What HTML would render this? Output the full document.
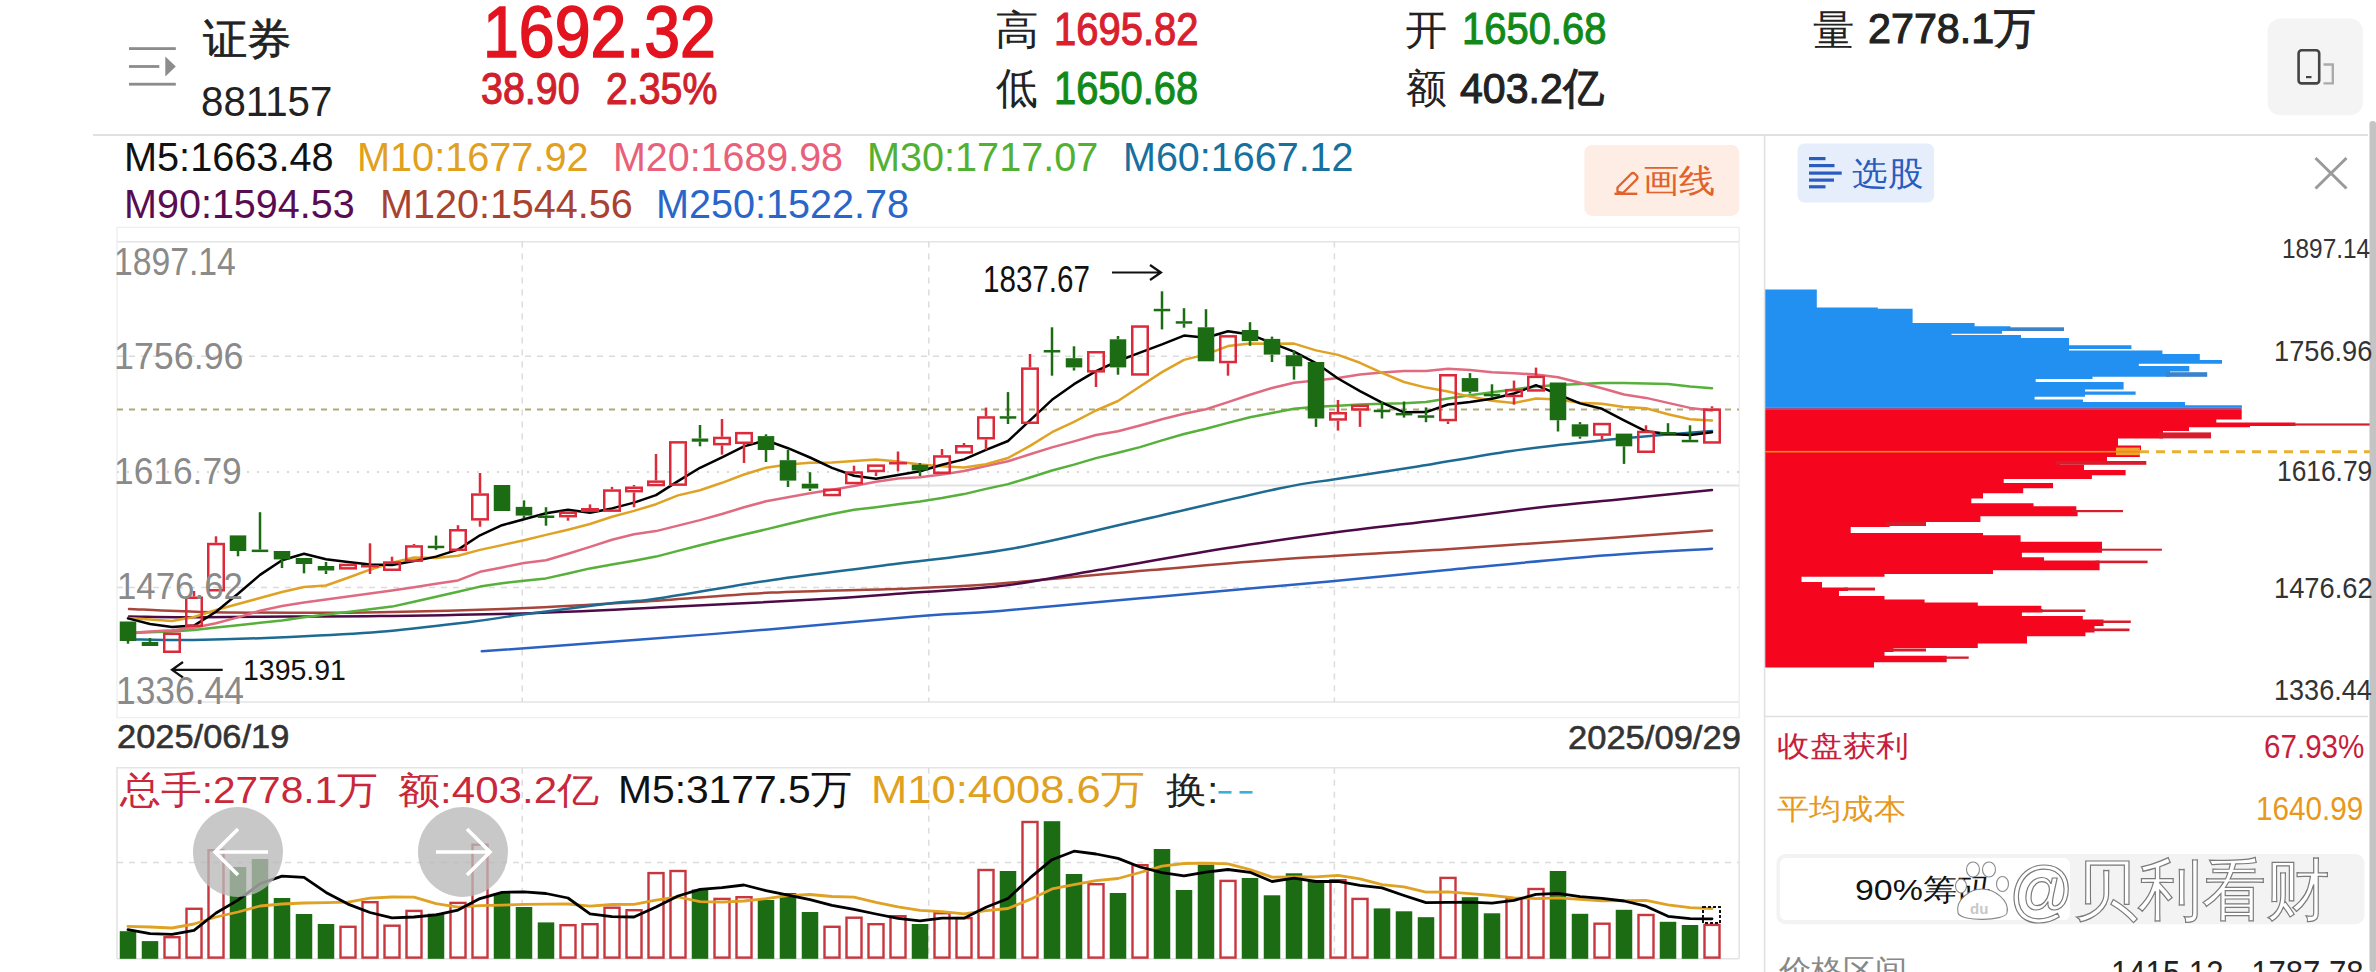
<!DOCTYPE html>
<html><head><meta charset="utf-8"><style>
html,body{margin:0;padding:0;background:#fff;width:2376px;height:972px;overflow:hidden;position:relative}
.t{position:absolute;white-space:nowrap;font-family:'Liberation Sans', sans-serif;transform-origin:0 0}
svg{position:absolute;left:0;top:0}
</style></head><body>
<svg width="2376" height="972" viewBox="0 0 2376 972">
<rect x="117" y="227.4" width="1622.2" height="490.2" fill="none" stroke="#efefef" stroke-width="1.4"/>
<line x1="117" y1="241.7" x2="1739" y2="241.7" stroke="#e4e4e4" stroke-width="1.6"/>
<line x1="117" y1="702" x2="1739" y2="702" stroke="#e4e4e4" stroke-width="1.6"/>
<line x1="117" y1="356.3" x2="1739" y2="356.3" stroke="#dcdcdc" stroke-width="1.5" stroke-dasharray="6 6"/>
<line x1="117" y1="587.5" x2="1739" y2="587.5" stroke="#dcdcdc" stroke-width="1.5" stroke-dasharray="6 6"/>
<line x1="117" y1="472" x2="1739" y2="472" stroke="#d8d8d8" stroke-width="1.8" stroke-dasharray="2 8"/>
<line x1="875" y1="485.4" x2="1739" y2="485.4" stroke="#e2e2e2" stroke-width="2"/>
<line x1="522.2" y1="241.6" x2="522.2" y2="702" stroke="#dcdcdc" stroke-width="1.5" stroke-dasharray="6 6"/>
<line x1="522.2" y1="767.7" x2="522.2" y2="958.8" stroke="#dcdcdc" stroke-width="1.5" stroke-dasharray="6 6"/>
<line x1="928.8" y1="241.6" x2="928.8" y2="702" stroke="#dcdcdc" stroke-width="1.5" stroke-dasharray="6 6"/>
<line x1="928.8" y1="767.7" x2="928.8" y2="958.8" stroke="#dcdcdc" stroke-width="1.5" stroke-dasharray="6 6"/>
<line x1="1334.4" y1="241.6" x2="1334.4" y2="702" stroke="#dcdcdc" stroke-width="1.5" stroke-dasharray="6 6"/>
<line x1="1334.4" y1="767.7" x2="1334.4" y2="958.8" stroke="#dcdcdc" stroke-width="1.5" stroke-dasharray="6 6"/>
<line x1="117" y1="409.5" x2="1739" y2="409.5" stroke="#b2a878" stroke-width="1.8" stroke-dasharray="6 6"/>
<path d="M117,958.8 V767.7 H1739.2 V958.8" fill="none" stroke="#e4e4e4" stroke-width="1.6"/>
<line x1="117" y1="958.8" x2="1739" y2="958.8" stroke="#e4e4e4" stroke-width="1.6"/>
<line x1="117" y1="862.6" x2="1739" y2="862.6" stroke="#dcdcdc" stroke-width="1.5" stroke-dasharray="6 6"/>
<line x1="93" y1="135" x2="2368" y2="135" stroke="#e0e0e0" stroke-width="1.8"/>
<line x1="1764.6" y1="135" x2="1764.6" y2="972" stroke="#e0e0e0" stroke-width="1.6"/>
<line x1="1764.6" y1="716.5" x2="2368" y2="716.5" stroke="#e0e0e0" stroke-width="1.6"/>
<path d="M1765.3,289.5 L1816.8,289.5 L1816.8,307.4 L1877.8,307.4 L1877.8,308.8 L1912.6,308.8 L1912.6,323.1 L1974.6,323.1 L1974.6,326.3 L2010.4,326.3 L2010.4,331.0 L2002.0,331.0 L2002.0,333.7 L1951.5,333.7 L1951.5,335.0 L2021.0,335.0 L2021.0,337.9 L2069.0,337.9 L2069.0,345.2 L2131.4,345.2 L2131.4,349.0 L2069.0,349.0 L2069.0,350.5 L2162.4,350.5 L2162.4,354.0 L2199.8,354.0 L2199.8,360.0 L2222.0,360.0 L2222.0,363.8 L2138.8,363.8 L2138.8,365.9 L2189.3,365.9 L2189.3,371.5 L2170.0,371.5 L2170.0,376.8 L2092.5,376.8 L2092.5,379.0 L2035.7,379.0 L2035.7,382.0 L2123.6,382.0 L2123.6,389.4 L2085.0,389.4 L2085.0,391.5 L2135.6,391.5 L2135.6,394.7 L2085.0,394.7 L2085.0,396.8 L2034.6,396.8 L2034.6,399.5 L2083.0,399.5 L2083.0,402.0 L2185.0,402.0 L2185.0,405.2 L2241.9,405.2 L2241.9,407.8 L1765.3,407.8 Z" fill="#2190f0"/>
<rect x="2006.4" y="327.3" width="57.6" height="3.7" fill="#3a82cc"/>
<rect x="2166.0" y="372.2" width="41.2" height="4.6" fill="#3a82cc"/>
<path d="M1765.3,409.9 L2241.7,409.9 L2241.7,419.4 L2216.3,419.4 L2216.3,422.5 L2295.4,422.5 L2295.4,426.0 L2250.0,426.0 L2250.0,427.2 L2189.0,427.2 L2189.0,431.0 L2163.0,431.0 L2163.0,438.4 L2118.0,438.4 L2118.0,445.4 L2141.0,445.4 L2141.0,450.6 L2139.8,450.6 L2139.8,457.0 L2107.0,457.0 L2107.0,461.0 L2060.0,461.0 L2060.0,464.8 L2084.0,464.8 L2084.0,470.0 L2125.6,470.0 L2125.6,475.2 L2091.9,475.2 L2091.9,479.0 L2003.7,479.0 L2003.7,483.0 L2053.0,483.0 L2053.0,488.2 L2023.2,488.2 L2023.2,493.3 L1983.0,493.3 L1983.0,498.5 L1971.3,498.5 L1971.3,503.2 L2033.5,503.2 L2033.5,506.3 L2076.3,506.3 L2076.3,511.5 L2077.6,511.5 L2077.6,516.2 L1980.4,516.2 L1980.4,521.9 L1889.6,521.9 L1889.6,527.0 L1850.7,527.0 L1850.7,533.1 L1983.0,533.1 L1983.0,535.2 L2020.6,535.2 L2020.6,541.7 L2102.0,541.7 L2102.0,552.8 L2021.9,552.8 L2021.9,557.2 L2044.0,557.2 L2044.0,560.6 L2099.6,560.6 L2099.6,570.2 L1993.0,570.2 L1993.0,574.0 L1884.5,574.0 L1884.5,576.7 L1801.5,576.7 L1801.5,581.9 L1822.0,581.9 L1822.0,587.6 L1848.0,587.6 L1848.0,591.0 L1839.0,591.0 L1839.0,596.0 L1884.5,596.0 L1884.5,599.5 L1924.6,599.5 L1924.6,602.6 L1977.8,602.6 L1977.8,605.7 L2041.3,605.7 L2041.3,609.0 L2042.6,609.0 L2042.6,612.4 L2021.9,612.4 L2021.9,616.0 L2082.8,616.0 L2082.8,619.4 L2103.5,619.4 L2103.5,626.0 L2094.5,626.0 L2094.5,632.4 L2085.4,632.4 L2085.4,636.3 L2027.0,636.3 L2027.0,643.6 L1977.8,643.6 L1977.8,648.0 L1893.5,648.0 L1893.5,651.9 L1884.5,651.9 L1884.5,655.7 L1946.7,655.7 L1946.7,662.2 L1874.0,662.2 L1874.0,667.4 L1765.3,667.4 Z" fill="#f5061e"/>
<rect x="2159.0" y="432.4" width="52.0" height="6.0" fill="#d81c2c"/>
<rect x="2056.0" y="461" width="90.3" height="3.8" fill="#d81c2c"/>
<rect x="2072.3" y="510" width="50.7" height="2.2" fill="#d81c2c"/>
<rect x="1885.6" y="522" width="40.4" height="4.0" fill="#d81c2c"/>
<rect x="2098.0" y="548.7" width="63.9" height="2.0" fill="#d81c2c"/>
<rect x="2095.6" y="560.6" width="52.0" height="2.6" fill="#d81c2c"/>
<rect x="1844.0" y="587.6" width="31.0" height="2.9" fill="#d81c2c"/>
<rect x="2038.6" y="609.5" width="46.8" height="2.5" fill="#d81c2c"/>
<rect x="2099.5" y="620.5" width="31.3" height="2.5" fill="#d81c2c"/>
<rect x="2090.5" y="628.5" width="39.0" height="2.7" fill="#d81c2c"/>
<rect x="1889.5" y="648.5" width="36.5" height="3.0" fill="#d81c2c"/>
<rect x="1942.7" y="656.5" width="26.0" height="2.3" fill="#d81c2c"/>
<rect x="1765.3" y="407.6" width="476.4" height="2.4" fill="#a05088"/>
<rect x="2290" y="423.4" width="80" height="2.2" fill="#d02030"/>
<rect x="2116" y="447.6" width="24" height="7.6" fill="#f2a232"/>
<rect x="1765.3" y="450.9" width="374.7" height="1.6" fill="#f08a10"/>
<line x1="2140" y1="451.7" x2="2370" y2="451.7" stroke="#e8b030" stroke-width="3" stroke-dasharray="9 7"/>
<rect x="129" y="47.2" width="46.8" height="2.8" fill="#8c8c8c"/>
<rect x="129" y="65.1" width="30.3" height="2.8" fill="#8c8c8c"/>
<rect x="129" y="82.8" width="46.8" height="2.8" fill="#8c8c8c"/>
<polygon points="165.3,56.4 175.8,66.5 165.3,76.6" fill="#8c8c8c"/>
<rect x="2267.6" y="18.5" width="95.4" height="96.7" rx="13" fill="#f4f4f4"/>
<rect x="2298.6" y="50.2" width="20.6" height="33.2" rx="3" fill="none" stroke="#444" stroke-width="2.6"/>
<rect x="2306" y="76" width="5.5" height="2.2" fill="#444"/>
<path d="M2323.5,64.5 H2332.8 V83.4 H2323.5" fill="none" stroke="#aaa" stroke-width="2.4"/>
<rect x="1584.4" y="145" width="154.9" height="70.9" rx="8" fill="#fdede4"/>
<path d="M1617.5,192 L1617.5,187.5 L1631,174 Q1633,172 1635,174 L1636.5,175.5 Q1638.5,177.5 1636.5,179.5 L1623,193 Z" fill="none" stroke="#e2622e" stroke-width="2.3" stroke-linejoin="round"/>
<rect x="1614.5" y="192.6" width="22.8" height="2.4" fill="#e2622e"/>
<rect x="1797.6" y="143.5" width="136.6" height="59.1" rx="7" fill="#e6eefb"/>
<rect x="1809" y="157" width="16.5" height="3.2" fill="#2a5cc0"/>
<rect x="1809" y="164" width="25.5" height="3.2" fill="#2a5cc0"/>
<rect x="1809" y="171.5" width="32.7" height="3.2" fill="#2a5cc0"/>
<rect x="1809" y="178.5" width="25" height="3.2" fill="#2a5cc0"/>
<rect x="1809" y="185.2" width="16.5" height="3.2" fill="#2a5cc0"/>
<path d="M2315.5,158 L2346.5,188.5 M2346.5,158 L2315.5,188.5" stroke="#9a9a9a" stroke-width="3" fill="none"/>
<path d="M1112,272.5 H1161 M1150,265 L1161,272.5 L1150,280" stroke="#111" stroke-width="2.2" fill="none"/>
<path d="M222.7,669.8 H172 M183,662 L172,669.8 L183,677.5" stroke="#111" stroke-width="2.2" fill="none"/>
<rect x="1218.5" y="791" width="13" height="2.6" fill="#3ab0d8"/>
<rect x="1239.5" y="791" width="13" height="2.6" fill="#3ab0d8"/>
<rect x="2369.5" y="121" width="6.5" height="851" rx="3" fill="#c4c4c4"/>
<rect x="1776.4" y="854" width="588" height="70.2" rx="9" fill="#f3f3f3"/>
<rect x="1780" y="858" width="290" height="62" rx="6" fill="#ffffff"/>
<path d="M481.8,651.3 C508.3,649.3 592.7,643.3 641.0,639.6 C689.3,635.9 725.7,633.1 771.4,629.2 C817.1,625.4 876.9,619.5 915.0,616.5 C953.1,613.5 960.8,614.1 1000.0,610.9 C1039.2,607.7 1095.1,602.4 1150.0,597.5 C1204.9,592.6 1279.9,586.0 1329.4,581.4 C1378.9,576.8 1401.4,574.3 1447.0,570.0 C1492.6,565.7 1558.8,559.0 1603.0,555.5 C1647.2,552.0 1693.8,549.8 1712.0,548.7" fill="none" stroke="#2a62c4" stroke-width="2.5" stroke-linecap="round"/>
<path d="M129.0,608.9 C141.0,609.4 174.1,611.4 200.9,612.0 C227.7,612.6 260.1,612.7 290.0,612.7 C319.9,612.7 341.5,612.9 380.0,612.2 C418.5,611.5 477.4,610.0 520.9,608.3 C564.4,606.6 599.2,604.4 641.0,601.8 C682.8,599.2 727.9,594.8 771.4,592.6 C814.9,590.4 863.9,590.2 902.0,588.7 C940.1,587.2 958.5,586.6 1000.0,583.5 C1041.5,580.4 1102.4,574.1 1151.0,570.0 C1199.6,565.9 1242.2,562.1 1291.5,558.6 C1340.8,555.1 1395.1,552.7 1447.0,549.3 C1498.9,545.9 1558.8,541.5 1603.0,538.4 C1647.2,535.3 1693.8,531.9 1712.0,530.6" fill="none" stroke="#a8453a" stroke-width="2.5" stroke-linecap="round"/>
<path d="M129.0,616.5 C141.0,616.6 174.1,617.3 200.9,617.3 C227.7,617.3 260.1,616.7 290.0,616.5 C319.9,616.3 341.5,616.6 380.0,616.1 C418.5,615.6 473.1,615.0 520.9,613.5 C568.7,612.0 616.5,609.4 667.0,607.0 C717.5,604.6 784.4,601.4 823.6,599.1 C862.8,596.8 872.6,595.6 902.0,593.4 C931.4,591.2 967.3,590.0 1000.0,586.1 C1032.7,582.2 1059.8,576.4 1098.0,570.0 C1136.2,563.6 1189.0,554.0 1229.0,547.7 C1269.0,541.4 1302.7,536.8 1338.0,532.1 C1373.3,527.4 1407.2,523.9 1441.0,519.7 C1474.8,515.6 1511.1,510.6 1540.7,507.2 C1570.3,503.8 1590.0,502.2 1618.6,499.4 C1647.1,496.5 1696.4,491.7 1712.0,490.1" fill="none" stroke="#4e0a46" stroke-width="2.5" stroke-linecap="round"/>
<path d="M129.0,639.2 C139.7,639.3 166.2,640.4 193.0,640.0 C219.8,639.6 258.8,638.4 290.0,637.0 C321.2,635.6 350.0,634.3 380.0,631.8 C410.0,629.3 446.3,624.8 469.8,622.0 C493.3,619.2 497.0,618.0 520.9,614.8 C544.8,611.6 590.8,605.6 613.0,603.0 C635.2,600.4 628.5,602.8 654.0,599.1 C679.5,595.4 729.2,586.3 766.2,580.9 C803.2,575.5 835.5,571.8 875.8,566.5 C916.1,561.2 964.7,556.8 1008.0,549.3 C1051.3,541.8 1090.6,531.3 1135.8,521.2 C1181.0,511.1 1245.8,495.5 1279.0,488.5 C1312.2,481.5 1312.2,482.8 1335.0,479.2 C1357.8,475.6 1386.9,471.4 1416.0,466.7 C1445.1,462.0 1484.6,454.9 1509.6,451.2 C1534.5,447.5 1547.5,446.4 1565.7,444.3 C1583.9,442.2 1594.2,440.9 1618.6,438.7 C1643.0,436.5 1696.4,432.2 1712.0,430.9" fill="none" stroke="#1d6b92" stroke-width="2.5" stroke-linecap="round"/>
<polyline points="128.0,633.2 150.0,632.3 172.0,631.5 194.0,630.0 216.0,627.6 238.0,625.2 260.0,622.8 282.0,620.4 304.0,617.2 326.0,614.6 348.0,611.9 370.0,609.3 392.0,606.6 414.0,601.8 436.0,596.7 458.0,591.7 480.0,586.6 502.0,583.2 524.0,580.8 546.0,578.4 568.0,573.5 590.0,568.4 612.0,564.6 634.0,560.8 656.0,556.6 678.0,550.9 700.0,545.2 722.0,539.8 744.0,534.5 766.0,529.4 788.0,524.0 810.0,518.8 832.0,514.0 854.0,509.8 876.0,507.2 898.0,504.2 920.0,501.5 942.0,498.1 964.0,494.1 986.0,488.9 1008.0,484.1 1030.0,477.5 1052.0,470.5 1074.0,464.6 1096.0,458.1 1118.0,452.7 1140.0,447.1 1162.0,440.4 1184.0,434.0 1206.0,428.8 1228.0,422.9 1250.0,417.3 1272.0,412.9 1294.0,408.8 1316.0,406.8 1338.0,405.8 1360.0,404.6 1382.0,403.7 1404.0,403.2 1426.0,402.1 1448.0,398.5 1470.0,395.3 1492.0,392.2 1514.0,389.5 1536.0,386.5 1558.0,385.1 1580.0,384.0 1602.0,382.9 1624.0,382.9 1646.0,383.4 1668.0,384.0 1690.0,386.4 1712.0,388.3" fill="none" stroke="#56b03a" stroke-width="2.5" stroke-linejoin="round" stroke-linecap="round"/>
<polyline points="128.0,633.0 150.0,631.5 172.0,630.2 194.0,627.8 216.0,623.3 238.0,617.4 260.0,610.7 282.0,606.0 304.0,602.6 326.0,599.6 348.0,596.6 370.0,593.6 392.0,590.6 414.0,587.2 436.0,583.8 458.0,580.4 480.0,571.8 502.0,567.4 524.0,563.0 546.0,560.2 568.0,553.8 590.0,546.9 612.0,539.7 634.0,534.2 656.0,531.1 678.0,525.6 700.0,520.1 722.0,514.0 744.0,507.3 766.0,501.3 788.0,497.2 810.0,493.3 832.0,489.7 854.0,486.0 876.0,481.8 898.0,478.5 920.0,477.3 942.0,474.6 964.0,471.0 986.0,466.0 1008.0,461.3 1030.0,454.3 1052.0,447.4 1074.0,441.4 1096.0,435.0 1118.0,431.3 1140.0,425.5 1162.0,419.2 1184.0,413.8 1206.0,409.3 1228.0,402.1 1250.0,394.7 1272.0,388.0 1294.0,382.7 1316.0,380.4 1338.0,377.9 1360.0,374.6 1382.0,372.5 1404.0,371.0 1426.0,371.0 1448.0,368.8 1470.0,370.0 1492.0,372.2 1514.0,373.3 1536.0,374.5 1558.0,377.2 1580.0,382.7 1602.0,388.3 1624.0,394.5 1646.0,397.9 1668.0,402.9 1690.0,407.9 1712.0,410.6" fill="none" stroke="#e06a80" stroke-width="2.5" stroke-linejoin="round" stroke-linecap="round"/>
<polyline points="128.0,618.0 150.0,619.5 172.0,621.0 194.0,617.0 216.0,610.0 238.0,604.0 260.0,598.0 282.0,592.0 304.0,587.0 326.0,585.5 348.0,577.8 370.0,569.7 392.0,562.6 414.0,557.5 436.0,558.0 458.0,555.8 480.0,549.9 502.0,545.1 524.0,540.2 546.0,534.9 568.0,529.7 590.0,524.0 612.0,516.8 634.0,510.9 656.0,504.2 678.0,495.4 700.0,490.3 722.0,482.8 744.0,474.5 766.0,467.7 788.0,464.6 810.0,462.7 832.0,462.6 854.0,461.1 876.0,459.5 898.0,461.6 920.0,464.4 942.0,466.3 964.0,467.6 986.0,464.2 1008.0,458.0 1030.0,445.9 1052.0,432.2 1074.0,421.8 1096.0,410.5 1118.0,401.0 1140.0,386.5 1162.0,372.1 1184.0,359.9 1206.0,354.4 1228.0,346.1 1250.0,343.5 1272.0,343.8 1294.0,343.6 1316.0,350.4 1338.0,354.9 1360.0,362.8 1382.0,372.9 1404.0,382.0 1426.0,387.6 1448.0,391.5 1470.0,396.6 1492.0,400.7 1514.0,402.9 1536.0,398.6 1558.0,399.5 1580.0,402.7 1602.0,403.8 1624.0,406.9 1646.0,408.2 1668.0,414.2 1690.0,419.3 1712.0,420.5" fill="none" stroke="#e0a224" stroke-width="2.5" stroke-linejoin="round" stroke-linecap="round"/>
<polyline points="128.0,618.4 150.0,624.0 172.0,627.1 194.0,625.6 216.0,611.8 238.0,593.8 260.0,574.9 282.0,560.3 304.0,553.8 326.0,559.3 348.0,561.9 370.0,564.5 392.0,564.9 414.0,561.1 436.0,556.6 458.0,549.6 480.0,535.3 502.0,525.2 524.0,519.3 546.0,513.3 568.0,509.8 590.0,512.7 612.0,508.4 634.0,502.6 656.0,495.1 678.0,481.1 700.0,467.8 722.0,457.3 744.0,446.4 766.0,440.3 788.0,448.2 810.0,457.5 832.0,467.9 854.0,475.8 876.0,478.7 898.0,474.9 920.0,471.3 942.0,464.7 964.0,459.4 986.0,449.8 1008.0,441.0 1030.0,420.4 1052.0,399.8 1074.0,384.2 1096.0,371.2 1118.0,361.0 1140.0,352.6 1162.0,344.4 1184.0,335.6 1206.0,337.7 1228.0,331.2 1250.0,334.4 1272.0,343.1 1294.0,351.7 1316.0,363.1 1338.0,378.5 1360.0,391.2 1382.0,402.6 1404.0,412.3 1426.0,412.1 1448.0,404.5 1470.0,401.9 1492.0,398.7 1514.0,393.5 1536.0,385.2 1558.0,394.4 1580.0,403.4 1602.0,408.8 1624.0,420.3 1646.0,431.3 1668.0,434.1 1690.0,435.1 1712.0,432.2" fill="none" stroke="#000000" stroke-width="2.5" stroke-linejoin="round" stroke-linecap="round"/>
<rect x="126.75" y="641" width="2.5" height="2.7000000000000455" fill="#1b6c12"/>
<rect x="119.75" y="621.5" width="16.5" height="19.5" fill="#1b6c12"/>
<rect x="148.75" y="638" width="2.5" height="3.8999999999999773" fill="#1b6c12"/>
<rect x="141.75" y="641.9" width="16.5" height="4.100000000000023" fill="#1b6c12"/>
<rect x="164.25" y="633.85" width="15.5" height="17.899999999999977" fill="none" stroke="#dc2a3a" stroke-width="2.5"/>
<rect x="192.75" y="591" width="2.5" height="5.5" fill="#dc2a3a"/>
<rect x="186.25" y="597.75" width="15.5" height="28.0" fill="none" stroke="#dc2a3a" stroke-width="2.5"/>
<rect x="214.75" y="536.3" width="2.5" height="6.5" fill="#dc2a3a"/>
<rect x="208.25" y="544.05" width="15.5" height="46.200000000000045" fill="none" stroke="#dc2a3a" stroke-width="2.5"/>
<rect x="236.75" y="551" width="2.5" height="5.2999999999999545" fill="#1b6c12"/>
<rect x="229.75" y="535.4" width="16.5" height="15.600000000000023" fill="#1b6c12"/>
<rect x="258.75" y="512.2" width="2.5" height="37.39999999999998" fill="#1b6c12"/>
<rect x="251.75" y="549.6" width="16.5" height="2.5" fill="#1b6c12"/>
<rect x="280.75" y="559.4" width="2.5" height="8.600000000000023" fill="#1b6c12"/>
<rect x="273.75" y="551" width="16.5" height="8.399999999999977" fill="#1b6c12"/>
<rect x="302.75" y="564" width="2.5" height="9.299999999999955" fill="#1b6c12"/>
<rect x="295.75" y="558" width="16.5" height="6" fill="#1b6c12"/>
<rect x="324.75" y="562" width="2.5" height="4" fill="#1b6c12"/>
<rect x="324.75" y="570.5" width="2.5" height="3.5" fill="#1b6c12"/>
<rect x="317.75" y="566" width="16.5" height="4.5" fill="#1b6c12"/>
<rect x="340.25" y="564.95" width="15.5" height="3.3999999999999773" fill="none" stroke="#dc2a3a" stroke-width="2.5"/>
<rect x="368.75" y="543.3" width="2.5" height="21.700000000000045" fill="#dc2a3a"/>
<rect x="368.75" y="567" width="2.5" height="7" fill="#dc2a3a"/>
<rect x="361" y="565" width="18" height="2.5" fill="#dc2a3a"/>
<rect x="390.75" y="556.7" width="2.5" height="4.599999999999909" fill="#dc2a3a"/>
<rect x="384.25" y="562.55" width="15.5" height="7.2000000000000455" fill="none" stroke="#dc2a3a" stroke-width="2.5"/>
<rect x="412.75" y="544" width="2.5" height="1.2000000000000455" fill="#dc2a3a"/>
<rect x="406.25" y="546.45" width="15.5" height="14.199999999999932" fill="none" stroke="#dc2a3a" stroke-width="2.5"/>
<rect x="434.75" y="535.6" width="2.5" height="10.100000000000023" fill="#1b6c12"/>
<rect x="434.75" y="547.7" width="2.5" height="2.099999999999909" fill="#1b6c12"/>
<rect x="427.75" y="545.7" width="16.5" height="2.5" fill="#1b6c12"/>
<rect x="456.75" y="525.2" width="2.5" height="3.7999999999999545" fill="#dc2a3a"/>
<rect x="450.25" y="530.25" width="15.5" height="19.5" fill="none" stroke="#dc2a3a" stroke-width="2.5"/>
<rect x="478.75" y="473" width="2.5" height="20.30000000000001" fill="#dc2a3a"/>
<rect x="478.75" y="520.6" width="2.5" height="6.100000000000023" fill="#dc2a3a"/>
<rect x="472.25" y="494.55" width="15.5" height="24.80000000000001" fill="none" stroke="#dc2a3a" stroke-width="2.5"/>
<rect x="493.75" y="485" width="16.5" height="26" fill="#1b6c12"/>
<rect x="522.75" y="500.4" width="2.5" height="6.5" fill="#1b6c12"/>
<rect x="522.75" y="515.6" width="2.5" height="2.699999999999932" fill="#1b6c12"/>
<rect x="515.75" y="506.9" width="16.5" height="8.700000000000045" fill="#1b6c12"/>
<rect x="544.75" y="507.2" width="2.5" height="8.300000000000011" fill="#1b6c12"/>
<rect x="544.75" y="517.5" width="2.5" height="8.200000000000045" fill="#1b6c12"/>
<rect x="537.75" y="515.5" width="16.5" height="2.5" fill="#1b6c12"/>
<rect x="566.75" y="517.4" width="2.5" height="3.300000000000068" fill="#dc2a3a"/>
<rect x="560.25" y="512.75" width="15.5" height="3.3999999999999773" fill="none" stroke="#dc2a3a" stroke-width="2.5"/>
<rect x="588.75" y="504.4" width="2.5" height="3.6000000000000227" fill="#dc2a3a"/>
<rect x="581" y="508" width="18" height="3.8999999999999773" fill="#dc2a3a"/>
<rect x="610.75" y="486.9" width="2.5" height="2.400000000000034" fill="#dc2a3a"/>
<rect x="604.25" y="490.55" width="15.5" height="20.099999999999966" fill="none" stroke="#dc2a3a" stroke-width="2.5"/>
<rect x="632.75" y="485" width="2.5" height="1.5" fill="#dc2a3a"/>
<rect x="632.75" y="492.4" width="2.5" height="14.800000000000011" fill="#dc2a3a"/>
<rect x="626.25" y="487.75" width="15.5" height="3.3999999999999773" fill="none" stroke="#dc2a3a" stroke-width="2.5"/>
<rect x="654.75" y="454" width="2.5" height="26.399999999999977" fill="#dc2a3a"/>
<rect x="648.25" y="481.65" width="15.5" height="3.400000000000034" fill="none" stroke="#dc2a3a" stroke-width="2.5"/>
<rect x="670.25" y="442.35" width="15.5" height="42.299999999999955" fill="none" stroke="#dc2a3a" stroke-width="2.5"/>
<rect x="698.75" y="425" width="2.5" height="13.5" fill="#1b6c12"/>
<rect x="698.75" y="441.7" width="2.5" height="4.600000000000023" fill="#1b6c12"/>
<rect x="691.75" y="438.5" width="16.5" height="3.1999999999999886" fill="#1b6c12"/>
<rect x="720.75" y="419" width="2.5" height="17.69999999999999" fill="#dc2a3a"/>
<rect x="720.75" y="445.4" width="2.5" height="9.200000000000045" fill="#dc2a3a"/>
<rect x="714.25" y="437.95" width="15.5" height="6.199999999999989" fill="none" stroke="#dc2a3a" stroke-width="2.5"/>
<rect x="742.75" y="444" width="2.5" height="19" fill="#dc2a3a"/>
<rect x="736.25" y="433.15" width="15.5" height="9.600000000000023" fill="none" stroke="#dc2a3a" stroke-width="2.5"/>
<rect x="764.75" y="434.3" width="2.5" height="1.8000000000000114" fill="#1b6c12"/>
<rect x="764.75" y="450" width="2.5" height="12" fill="#1b6c12"/>
<rect x="757.75" y="436.1" width="16.5" height="13.899999999999977" fill="#1b6c12"/>
<rect x="786.75" y="450" width="2.5" height="10.199999999999989" fill="#1b6c12"/>
<rect x="786.75" y="480.6" width="2.5" height="6.399999999999977" fill="#1b6c12"/>
<rect x="779.75" y="460.2" width="16.5" height="20.400000000000034" fill="#1b6c12"/>
<rect x="808.75" y="472.2" width="2.5" height="11.5" fill="#1b6c12"/>
<rect x="808.75" y="488.5" width="2.5" height="2.5" fill="#1b6c12"/>
<rect x="801.75" y="483.7" width="16.5" height="4.800000000000011" fill="#1b6c12"/>
<rect x="824.25" y="489.75" width="15.5" height="5.300000000000011" fill="none" stroke="#dc2a3a" stroke-width="2.5"/>
<rect x="852.75" y="465.7" width="2.5" height="5.600000000000023" fill="#dc2a3a"/>
<rect x="846.25" y="472.55" width="15.5" height="10.5" fill="none" stroke="#dc2a3a" stroke-width="2.5"/>
<rect x="874.75" y="472.2" width="2.5" height="3.8000000000000114" fill="#dc2a3a"/>
<rect x="868.25" y="465.65" width="15.5" height="5.300000000000011" fill="none" stroke="#dc2a3a" stroke-width="2.5"/>
<rect x="896.75" y="451.5" width="2.5" height="10.5" fill="#dc2a3a"/>
<rect x="896.75" y="464" width="2.5" height="7.300000000000011" fill="#dc2a3a"/>
<rect x="889" y="462" width="18" height="2.5" fill="#dc2a3a"/>
<rect x="918.75" y="463" width="2.5" height="1.8000000000000114" fill="#1b6c12"/>
<rect x="918.75" y="470.4" width="2.5" height="5.600000000000023" fill="#1b6c12"/>
<rect x="911.75" y="464.8" width="16.5" height="5.599999999999966" fill="#1b6c12"/>
<rect x="940.75" y="449" width="2.5" height="6.199999999999989" fill="#dc2a3a"/>
<rect x="934.25" y="456.45" width="15.5" height="16.30000000000001" fill="none" stroke="#dc2a3a" stroke-width="2.5"/>
<rect x="962.75" y="443" width="2.5" height="2" fill="#dc2a3a"/>
<rect x="956.25" y="446.25" width="15.5" height="6.199999999999989" fill="none" stroke="#dc2a3a" stroke-width="2.5"/>
<rect x="984.75" y="407.6" width="2.5" height="8.599999999999966" fill="#dc2a3a"/>
<rect x="984.75" y="439.5" width="2.5" height="10.300000000000011" fill="#dc2a3a"/>
<rect x="978.25" y="417.45" width="15.5" height="20.80000000000001" fill="none" stroke="#dc2a3a" stroke-width="2.5"/>
<rect x="1006.75" y="392.1" width="2.5" height="24.099999999999966" fill="#1b6c12"/>
<rect x="1006.75" y="418.2" width="2.5" height="5.800000000000011" fill="#1b6c12"/>
<rect x="999.75" y="416.2" width="16.5" height="2.5" fill="#1b6c12"/>
<rect x="1028.75" y="354" width="2.5" height="13.399999999999977" fill="#dc2a3a"/>
<rect x="1022.25" y="368.65" width="15.5" height="54.10000000000002" fill="none" stroke="#dc2a3a" stroke-width="2.5"/>
<rect x="1050.75" y="327.3" width="2.5" height="22.69999999999999" fill="#1b6c12"/>
<rect x="1050.75" y="352" width="2.5" height="23.69999999999999" fill="#1b6c12"/>
<rect x="1043.75" y="350" width="16.5" height="2.5" fill="#1b6c12"/>
<rect x="1072.75" y="346.3" width="2.5" height="11.899999999999977" fill="#1b6c12"/>
<rect x="1072.75" y="367.4" width="2.5" height="3.1000000000000227" fill="#1b6c12"/>
<rect x="1065.75" y="358.2" width="16.5" height="9.199999999999989" fill="#1b6c12"/>
<rect x="1094.75" y="372.6" width="2.5" height="14.399999999999977" fill="#dc2a3a"/>
<rect x="1088.25" y="352.25" width="15.5" height="19.100000000000023" fill="none" stroke="#dc2a3a" stroke-width="2.5"/>
<rect x="1116.75" y="336" width="2.5" height="3.3000000000000114" fill="#1b6c12"/>
<rect x="1116.75" y="367.4" width="2.5" height="7.300000000000011" fill="#1b6c12"/>
<rect x="1109.75" y="339.3" width="16.5" height="28.099999999999966" fill="#1b6c12"/>
<rect x="1132.25" y="326.55" width="15.5" height="47.89999999999998" fill="none" stroke="#dc2a3a" stroke-width="2.5"/>
<rect x="1160.75" y="291.3" width="2.5" height="17.5" fill="#1b6c12"/>
<rect x="1160.75" y="310.8" width="2.5" height="18.599999999999966" fill="#1b6c12"/>
<rect x="1153.75" y="308.8" width="16.5" height="2.5" fill="#1b6c12"/>
<rect x="1182.75" y="308.2" width="2.5" height="13.0" fill="#1b6c12"/>
<rect x="1182.75" y="323.6" width="2.5" height="4.099999999999966" fill="#1b6c12"/>
<rect x="1175.75" y="321.2" width="16.5" height="2.5" fill="#1b6c12"/>
<rect x="1204.75" y="309.2" width="2.5" height="18.100000000000023" fill="#1b6c12"/>
<rect x="1197.75" y="327.3" width="16.5" height="34.0" fill="#1b6c12"/>
<rect x="1226.75" y="363.3" width="2.5" height="12.399999999999977" fill="#dc2a3a"/>
<rect x="1220.25" y="336.35" width="15.5" height="25.69999999999999" fill="none" stroke="#dc2a3a" stroke-width="2.5"/>
<rect x="1248.75" y="322.2" width="2.5" height="7.800000000000011" fill="#1b6c12"/>
<rect x="1248.75" y="341.1" width="2.5" height="4.699999999999989" fill="#1b6c12"/>
<rect x="1241.75" y="330" width="16.5" height="11.100000000000023" fill="#1b6c12"/>
<rect x="1270.75" y="336.6" width="2.5" height="2.2999999999999545" fill="#1b6c12"/>
<rect x="1270.75" y="354.6" width="2.5" height="7.399999999999977" fill="#1b6c12"/>
<rect x="1263.75" y="338.9" width="16.5" height="15.700000000000045" fill="#1b6c12"/>
<rect x="1292.75" y="350.4" width="2.5" height="4.800000000000011" fill="#1b6c12"/>
<rect x="1292.75" y="366.3" width="2.5" height="13.300000000000011" fill="#1b6c12"/>
<rect x="1285.75" y="355.2" width="16.5" height="11.100000000000023" fill="#1b6c12"/>
<rect x="1314.75" y="418.5" width="2.5" height="8.399999999999977" fill="#1b6c12"/>
<rect x="1307.75" y="362" width="16.5" height="56.5" fill="#1b6c12"/>
<rect x="1336.75" y="400" width="2.5" height="12" fill="#dc2a3a"/>
<rect x="1336.75" y="420.7" width="2.5" height="9.900000000000034" fill="#dc2a3a"/>
<rect x="1330.25" y="413.25" width="15.5" height="6.199999999999989" fill="none" stroke="#dc2a3a" stroke-width="2.5"/>
<rect x="1358.75" y="410.7" width="2.5" height="16.19999999999999" fill="#dc2a3a"/>
<rect x="1352.25" y="405.85" width="15.5" height="3.599999999999966" fill="none" stroke="#dc2a3a" stroke-width="2.5"/>
<rect x="1380.75" y="401.5" width="2.5" height="8.199999999999989" fill="#1b6c12"/>
<rect x="1380.75" y="411.7" width="2.5" height="6.800000000000011" fill="#1b6c12"/>
<rect x="1373.75" y="409.7" width="16.5" height="2.5" fill="#1b6c12"/>
<rect x="1402.75" y="401.5" width="2.5" height="11.399999999999977" fill="#1b6c12"/>
<rect x="1402.75" y="414.9" width="2.5" height="2.7000000000000455" fill="#1b6c12"/>
<rect x="1395.75" y="412.9" width="16.5" height="2.5" fill="#1b6c12"/>
<rect x="1424.75" y="407.4" width="2.5" height="7.900000000000034" fill="#1b6c12"/>
<rect x="1424.75" y="417.3" width="2.5" height="4.899999999999977" fill="#1b6c12"/>
<rect x="1417.75" y="415.3" width="16.5" height="2.5" fill="#1b6c12"/>
<rect x="1446.75" y="421.3" width="2.5" height="2.6999999999999886" fill="#dc2a3a"/>
<rect x="1440.25" y="375.25" width="15.5" height="44.80000000000001" fill="none" stroke="#dc2a3a" stroke-width="2.5"/>
<rect x="1468.75" y="373.1" width="2.5" height="5.0" fill="#1b6c12"/>
<rect x="1468.75" y="391.7" width="2.5" height="1.8000000000000114" fill="#1b6c12"/>
<rect x="1461.75" y="378.1" width="16.5" height="13.599999999999966" fill="#1b6c12"/>
<rect x="1490.75" y="384.3" width="2.5" height="9.5" fill="#1b6c12"/>
<rect x="1490.75" y="395.8" width="2.5" height="2.1999999999999886" fill="#1b6c12"/>
<rect x="1483.75" y="393.8" width="16.5" height="2.5" fill="#1b6c12"/>
<rect x="1512.75" y="380.6" width="2.5" height="8.299999999999955" fill="#dc2a3a"/>
<rect x="1512.75" y="397.2" width="2.5" height="7.400000000000034" fill="#dc2a3a"/>
<rect x="1506.25" y="390.15" width="15.5" height="5.800000000000011" fill="none" stroke="#dc2a3a" stroke-width="2.5"/>
<rect x="1534.75" y="367.6" width="2.5" height="8.0" fill="#dc2a3a"/>
<rect x="1528.25" y="376.85" width="15.5" height="13.599999999999966" fill="none" stroke="#dc2a3a" stroke-width="2.5"/>
<rect x="1556.75" y="420.2" width="2.5" height="11.300000000000011" fill="#1b6c12"/>
<rect x="1549.75" y="382.5" width="16.5" height="37.69999999999999" fill="#1b6c12"/>
<rect x="1578.75" y="422.1" width="2.5" height="2.1999999999999886" fill="#1b6c12"/>
<rect x="1578.75" y="436.5" width="2.5" height="2.1999999999999886" fill="#1b6c12"/>
<rect x="1571.75" y="424.3" width="16.5" height="12.199999999999989" fill="#1b6c12"/>
<rect x="1600.75" y="435.8" width="2.5" height="3.599999999999966" fill="#dc2a3a"/>
<rect x="1594.25" y="424.05" width="15.5" height="10.5" fill="none" stroke="#dc2a3a" stroke-width="2.5"/>
<rect x="1622.75" y="446.3" width="2.5" height="17.599999999999966" fill="#1b6c12"/>
<rect x="1615.75" y="433.6" width="16.5" height="12.699999999999989" fill="#1b6c12"/>
<rect x="1644.75" y="425.3" width="2.5" height="5.399999999999977" fill="#dc2a3a"/>
<rect x="1638.25" y="431.95" width="15.5" height="19.80000000000001" fill="none" stroke="#dc2a3a" stroke-width="2.5"/>
<rect x="1666.75" y="423.2" width="2.5" height="8.800000000000011" fill="#1b6c12"/>
<rect x="1659.75" y="432" width="16.5" height="2.5" fill="#1b6c12"/>
<rect x="1688.75" y="425.3" width="2.5" height="14.5" fill="#1b6c12"/>
<rect x="1681.75" y="439.8" width="16.5" height="2.5" fill="#1b6c12"/>
<rect x="1710.75" y="406.3" width="2.5" height="2.099999999999966" fill="#dc2a3a"/>
<rect x="1704.25" y="409.65" width="15.5" height="32.80000000000001" fill="none" stroke="#dc2a3a" stroke-width="2.5"/>
<rect x="119.75" y="931.2" width="16.5" height="27.59999999999991" fill="#1b6c12"/>
<rect x="141.75" y="941.1" width="16.5" height="17.699999999999932" fill="#1b6c12"/>
<rect x="164.5" y="937.2" width="15" height="20.399999999999956" fill="none" stroke="#c8363e" stroke-width="2.4"/>
<rect x="186.5" y="908.8000000000001" width="15" height="48.79999999999993" fill="none" stroke="#c8363e" stroke-width="2.4"/>
<rect x="208.5" y="850.2" width="15" height="107.39999999999995" fill="none" stroke="#c8363e" stroke-width="2.4"/>
<rect x="229.75" y="867" width="16.5" height="91.79999999999995" fill="#1b6c12"/>
<rect x="251.75" y="859" width="16.5" height="99.79999999999995" fill="#1b6c12"/>
<rect x="273.75" y="898" width="16.5" height="60.799999999999955" fill="#1b6c12"/>
<rect x="295.75" y="914" width="16.5" height="44.799999999999955" fill="#1b6c12"/>
<rect x="317.75" y="924" width="16.5" height="34.799999999999955" fill="#1b6c12"/>
<rect x="340.5" y="926.8000000000001" width="15" height="30.799999999999933" fill="none" stroke="#c8363e" stroke-width="2.4"/>
<rect x="362.5" y="902.2" width="15" height="55.399999999999956" fill="none" stroke="#c8363e" stroke-width="2.4"/>
<rect x="384.5" y="925.7" width="15" height="31.899999999999956" fill="none" stroke="#c8363e" stroke-width="2.4"/>
<rect x="406.5" y="910.9000000000001" width="15" height="46.69999999999991" fill="none" stroke="#c8363e" stroke-width="2.4"/>
<rect x="427.75" y="913.7" width="16.5" height="45.09999999999991" fill="#1b6c12"/>
<rect x="450.5" y="902.9000000000001" width="15" height="54.69999999999991" fill="none" stroke="#c8363e" stroke-width="2.4"/>
<rect x="472.5" y="844.7" width="15" height="112.89999999999995" fill="none" stroke="#c8363e" stroke-width="2.4"/>
<rect x="493.75" y="893" width="16.5" height="65.79999999999995" fill="#1b6c12"/>
<rect x="515.75" y="907" width="16.5" height="51.799999999999955" fill="#1b6c12"/>
<rect x="537.75" y="922.4" width="16.5" height="36.39999999999998" fill="#1b6c12"/>
<rect x="560.5" y="925.2" width="15" height="32.399999999999956" fill="none" stroke="#c8363e" stroke-width="2.4"/>
<rect x="582.5" y="924.2" width="15" height="33.399999999999956" fill="none" stroke="#c8363e" stroke-width="2.4"/>
<rect x="604.5" y="907.7" width="15" height="49.899999999999956" fill="none" stroke="#c8363e" stroke-width="2.4"/>
<rect x="626.5" y="910.2" width="15" height="47.399999999999956" fill="none" stroke="#c8363e" stroke-width="2.4"/>
<rect x="648.5" y="873.1" width="15" height="84.49999999999997" fill="none" stroke="#c8363e" stroke-width="2.4"/>
<rect x="670.5" y="871.0" width="15" height="86.6" fill="none" stroke="#c8363e" stroke-width="2.4"/>
<rect x="691.75" y="889.5" width="16.5" height="69.29999999999995" fill="#1b6c12"/>
<rect x="714.5" y="898.9000000000001" width="15" height="58.69999999999991" fill="none" stroke="#c8363e" stroke-width="2.4"/>
<rect x="736.5" y="897.2" width="15" height="60.399999999999956" fill="none" stroke="#c8363e" stroke-width="2.4"/>
<rect x="757.75" y="900" width="16.5" height="58.799999999999955" fill="#1b6c12"/>
<rect x="779.75" y="893" width="16.5" height="65.79999999999995" fill="#1b6c12"/>
<rect x="801.75" y="912" width="16.5" height="46.799999999999955" fill="#1b6c12"/>
<rect x="824.5" y="926.8000000000001" width="15" height="30.799999999999933" fill="none" stroke="#c8363e" stroke-width="2.4"/>
<rect x="846.5" y="917.7" width="15" height="39.899999999999956" fill="none" stroke="#c8363e" stroke-width="2.4"/>
<rect x="868.5" y="924.2" width="15" height="33.399999999999956" fill="none" stroke="#c8363e" stroke-width="2.4"/>
<rect x="890.5" y="916.2" width="15" height="41.399999999999956" fill="none" stroke="#c8363e" stroke-width="2.4"/>
<rect x="911.75" y="924" width="16.5" height="34.799999999999955" fill="#1b6c12"/>
<rect x="934.5" y="913.2" width="15" height="44.399999999999956" fill="none" stroke="#c8363e" stroke-width="2.4"/>
<rect x="956.5" y="918.1" width="15" height="39.49999999999998" fill="none" stroke="#c8363e" stroke-width="2.4"/>
<rect x="978.5" y="870.0" width="15" height="87.6" fill="none" stroke="#c8363e" stroke-width="2.4"/>
<rect x="999.75" y="871" width="16.5" height="87.79999999999995" fill="#1b6c12"/>
<rect x="1022.5" y="822.0" width="15" height="135.6" fill="none" stroke="#c8363e" stroke-width="2.4"/>
<rect x="1043.75" y="821.2" width="16.5" height="137.5999999999999" fill="#1b6c12"/>
<rect x="1065.75" y="874" width="16.5" height="84.79999999999995" fill="#1b6c12"/>
<rect x="1088.5" y="884.2" width="15" height="73.39999999999995" fill="none" stroke="#c8363e" stroke-width="2.4"/>
<rect x="1109.75" y="893" width="16.5" height="65.79999999999995" fill="#1b6c12"/>
<rect x="1132.5" y="865.2" width="15" height="92.39999999999995" fill="none" stroke="#c8363e" stroke-width="2.4"/>
<rect x="1153.75" y="849" width="16.5" height="109.79999999999995" fill="#1b6c12"/>
<rect x="1175.75" y="890" width="16.5" height="68.79999999999995" fill="#1b6c12"/>
<rect x="1197.75" y="864.7" width="16.5" height="94.09999999999991" fill="#1b6c12"/>
<rect x="1220.5" y="880.9000000000001" width="15" height="76.6999999999999" fill="none" stroke="#c8363e" stroke-width="2.4"/>
<rect x="1241.75" y="878" width="16.5" height="80.79999999999995" fill="#1b6c12"/>
<rect x="1263.75" y="895.3" width="16.5" height="63.5" fill="#1b6c12"/>
<rect x="1285.75" y="873.3" width="16.5" height="85.5" fill="#1b6c12"/>
<rect x="1307.75" y="881" width="16.5" height="77.79999999999995" fill="#1b6c12"/>
<rect x="1330.5" y="880.2" width="15" height="77.39999999999995" fill="none" stroke="#c8363e" stroke-width="2.4"/>
<rect x="1352.5" y="898.9000000000001" width="15" height="58.69999999999991" fill="none" stroke="#c8363e" stroke-width="2.4"/>
<rect x="1373.75" y="908.4" width="16.5" height="50.39999999999998" fill="#1b6c12"/>
<rect x="1395.75" y="911.3" width="16.5" height="47.5" fill="#1b6c12"/>
<rect x="1417.75" y="917.2" width="16.5" height="41.59999999999991" fill="#1b6c12"/>
<rect x="1440.5" y="877.9000000000001" width="15" height="79.6999999999999" fill="none" stroke="#c8363e" stroke-width="2.4"/>
<rect x="1461.75" y="897.2" width="16.5" height="61.59999999999991" fill="#1b6c12"/>
<rect x="1483.75" y="913.3" width="16.5" height="45.5" fill="#1b6c12"/>
<rect x="1506.5" y="898.2" width="15" height="59.399999999999956" fill="none" stroke="#c8363e" stroke-width="2.4"/>
<rect x="1528.5" y="889.0" width="15" height="68.6" fill="none" stroke="#c8363e" stroke-width="2.4"/>
<rect x="1549.75" y="871" width="16.5" height="87.79999999999995" fill="#1b6c12"/>
<rect x="1571.75" y="913.8" width="16.5" height="45.0" fill="#1b6c12"/>
<rect x="1594.5" y="923.7" width="15" height="33.899999999999956" fill="none" stroke="#c8363e" stroke-width="2.4"/>
<rect x="1615.75" y="909.8" width="16.5" height="49.0" fill="#1b6c12"/>
<rect x="1638.5" y="915.0" width="15" height="42.6" fill="none" stroke="#c8363e" stroke-width="2.4"/>
<rect x="1659.75" y="921.8" width="16.5" height="37.0" fill="#1b6c12"/>
<rect x="1681.75" y="925" width="16.5" height="33.799999999999955" fill="#1b6c12"/>
<rect x="1704.5" y="924.9000000000001" width="15" height="32.69999999999991" fill="none" stroke="#c8363e" stroke-width="2.4"/>
<polyline points="128.0,926.4 150.0,927.0 172.0,928.0 194.0,924.0 216.0,917.0 238.0,912.0 260.0,906.0 282.0,904.0 304.0,903.0 326.0,902.7 348.0,902.1 370.0,898.1 392.0,897.0 414.0,897.2 436.0,903.6 458.0,907.1 480.0,905.6 502.0,905.1 524.0,904.4 546.0,904.2 568.0,904.0 590.0,906.2 612.0,904.5 634.0,904.4 656.0,900.2 678.0,897.0 700.0,901.6 722.0,902.1 744.0,901.0 766.0,898.7 788.0,895.6 810.0,894.5 832.0,896.5 854.0,897.2 876.0,902.3 898.0,906.8 920.0,910.3 942.0,911.7 964.0,913.8 986.0,910.7 1008.0,908.5 1030.0,899.4 1052.0,888.9 1074.0,884.7 1096.0,880.7 1118.0,878.5 1140.0,872.5 1162.0,866.2 1184.0,863.5 1206.0,863.1 1228.0,863.9 1250.0,869.7 1272.0,877.1 1294.0,877.0 1316.0,876.8 1338.0,875.4 1360.0,878.8 1382.0,884.7 1404.0,886.8 1426.0,892.1 1448.0,891.8 1470.0,893.7 1492.0,895.5 1514.0,897.9 1536.0,898.6 1558.0,897.8 1580.0,899.4 1602.0,900.8 1624.0,900.6 1646.0,900.3 1668.0,904.8 1690.0,907.6 1712.0,908.6" fill="none" stroke="#e0a224" stroke-width="2.8" stroke-linejoin="round" stroke-linecap="round"/>
<polyline points="128.0,929.6 150.0,933.6 172.0,934.4 194.0,930.4 216.0,913.0 238.0,900.1 260.0,883.7 282.0,876.1 304.0,877.4 326.0,892.4 348.0,904.1 370.0,912.5 392.0,917.8 414.0,917.0 436.0,914.9 458.0,910.1 480.0,898.6 502.0,892.3 524.0,891.8 546.0,893.5 568.0,898.0 590.0,913.9 612.0,916.6 634.0,917.0 656.0,906.9 678.0,896.0 700.0,889.3 722.0,887.6 744.0,885.0 766.0,890.6 788.0,895.2 810.0,899.7 832.0,905.3 854.0,909.4 876.0,914.0 898.0,918.4 920.0,920.8 942.0,918.1 964.0,918.2 986.0,907.3 1008.0,898.5 1030.0,877.9 1052.0,859.7 1074.0,851.2 1096.0,854.0 1118.0,858.4 1140.0,867.0 1162.0,872.6 1184.0,875.8 1206.0,872.1 1228.0,869.5 1250.0,872.3 1272.0,881.5 1294.0,878.2 1316.0,881.5 1338.0,881.3 1360.0,885.3 1382.0,887.9 1404.0,895.5 1426.0,902.7 1448.0,902.3 1470.0,902.2 1492.0,903.1 1514.0,900.3 1536.0,894.4 1558.0,893.3 1580.0,896.6 1602.0,898.4 1624.0,901.0 1646.0,906.2 1668.0,916.3 1690.0,918.6 1712.0,918.8" fill="none" stroke="#000" stroke-width="2.8" stroke-linejoin="round" stroke-linecap="round"/>
</svg>
<div class="t" style="left:203.06px;top:17.62px;font-size:42.53px;line-height:42.53px;color:#222;font-weight:400;-webkit-text-stroke:0.6px #222;transform:scaleX(1.0315)">证券</div>
<div class="t" style="left:201.39px;top:79.50px;font-size:42.68px;line-height:42.68px;color:#222;font-weight:400;transform:scaleX(0.9432)">881157</div>
<div class="t" style="left:483.35px;top:-4.02px;font-size:72.11px;line-height:72.11px;color:#e3141f;font-weight:400;-webkit-text-stroke:1.7px #e3141f;transform:scaleX(0.8930)">1692.32</div>
<div class="t" style="left:480.72px;top:66.85px;font-size:44.37px;line-height:44.37px;color:#d0202c;font-weight:400;-webkit-text-stroke:1.1px #d0202c;transform:scaleX(0.8877)">38.90</div>
<div class="t" style="left:605.74px;top:66.85px;font-size:44.37px;line-height:44.37px;color:#d0202c;font-weight:400;-webkit-text-stroke:1.1px #d0202c;transform:scaleX(0.8852)">2.35%</div>
<div class="t" style="left:995.25px;top:10.10px;font-size:40.71px;line-height:40.71px;color:#222;font-weight:400;transform:scaleX(1.0752)">高</div>
<div class="t" style="left:1053.60px;top:7.18px;font-size:45.49px;line-height:45.49px;color:#d8202e;font-weight:400;-webkit-text-stroke:1.1px #d8202e;transform:scaleX(0.8793)">1695.82</div>
<div class="t" style="left:996.20px;top:66.92px;font-size:43.04px;line-height:43.04px;color:#222;font-weight:400;transform:scaleX(0.9676)">低</div>
<div class="t" style="left:1053.61px;top:66.08px;font-size:45.49px;line-height:45.49px;color:#118a1a;font-weight:400;-webkit-text-stroke:1.1px #118a1a;transform:scaleX(0.8767)">1650.68</div>
<div class="t" style="left:1404.50px;top:9.60px;font-size:41.22px;line-height:41.22px;color:#222;font-weight:400;transform:scaleX(1.0310)">开</div>
<div class="t" style="left:1462.20px;top:7.06px;font-size:44.93px;line-height:44.93px;color:#118a1a;font-weight:400;-webkit-text-stroke:1.1px #118a1a;transform:scaleX(0.8890)">1650.68</div>
<div class="t" style="left:1405.79px;top:69.10px;font-size:39.90px;line-height:39.90px;color:#222;font-weight:400;transform:scaleX(1.0208)">额</div>
<div class="t" style="left:1460.28px;top:66.93px;font-size:42.83px;line-height:42.83px;color:#222;font-weight:400;-webkit-text-stroke:1.1px #222;transform:scaleX(0.9583)">403.2亿</div>
<div class="t" style="left:1813.37px;top:9.21px;font-size:43.14px;line-height:43.14px;color:#222;font-weight:400;transform:scaleX(0.9593)">量</div>
<div class="t" style="left:1868.24px;top:8.35px;font-size:42.50px;line-height:42.50px;color:#222;font-weight:400;-webkit-text-stroke:1.1px #222;transform:scaleX(0.9708)">2778.1万</div>
<div class="t" style="left:124.13px;top:137.30px;font-size:40.00px;line-height:40.00px;color:#111;font-weight:400;transform:scaleX(0.9918)">M5:1663.48</div>
<div class="t" style="left:357.13px;top:137.30px;font-size:40.00px;line-height:40.00px;color:#e0a020;font-weight:400;transform:scaleX(0.9917)">M10:1677.92</div>
<div class="t" style="left:612.85px;top:137.30px;font-size:40.00px;line-height:40.00px;color:#e8607a;font-weight:400;transform:scaleX(0.9851)">M20:1689.98</div>
<div class="t" style="left:866.63px;top:137.30px;font-size:40.00px;line-height:40.00px;color:#52b032;font-weight:400;transform:scaleX(0.9904)">M30:1717.07</div>
<div class="t" style="left:1123.34px;top:137.30px;font-size:40.00px;line-height:40.00px;color:#17709e;font-weight:400;transform:scaleX(0.9873)">M60:1667.12</div>
<div class="t" style="left:124.14px;top:184.49px;font-size:40.70px;line-height:40.70px;color:#5a0c52;font-weight:400;transform:scaleX(0.9715)">M90:1594.53</div>
<div class="t" style="left:379.84px;top:184.49px;font-size:40.70px;line-height:40.70px;color:#a84332;font-weight:400;transform:scaleX(0.9717)">M120:1544.56</div>
<div class="t" style="left:656.33px;top:184.49px;font-size:40.70px;line-height:40.70px;color:#2a66c8;font-weight:400;transform:scaleX(0.9725)">M250:1522.78</div>
<div class="t" style="left:1643.19px;top:165.41px;font-size:32.87px;line-height:32.87px;color:#e2622e;font-weight:400;transform:scaleX(1.0990)">画线</div>
<div class="t" style="left:1852.09px;top:157.52px;font-size:32.81px;line-height:32.81px;color:#2a5cc0;font-weight:400;transform:scaleX(1.0761)">选股</div>
<div class="t" style="left:114.00px;top:242.53px;font-size:38.45px;line-height:38.45px;color:#8a8a8a;font-weight:400;transform:scaleX(0.8765)">1897.14</div>
<div class="t" style="left:113.83px;top:337.86px;font-size:37.61px;line-height:37.61px;color:#8a8a8a;font-weight:400;transform:scaleX(0.9524)">1756.96</div>
<div class="t" style="left:113.87px;top:453.75px;font-size:36.34px;line-height:36.34px;color:#8a8a8a;font-weight:400;transform:scaleX(0.9722)">1616.79</div>
<div class="t" style="left:116.71px;top:568.36px;font-size:37.61px;line-height:37.61px;color:#8a8a8a;font-weight:400;transform:scaleX(0.9261)">1476.62</div>
<div class="t" style="left:115.67px;top:672.30px;font-size:38.03px;line-height:38.03px;color:#8a8a8a;font-weight:400;transform:scaleX(0.9305)">1336.44</div>
<div class="t" style="left:2281.75px;top:234.92px;font-size:27.18px;line-height:27.18px;color:#333;font-weight:400;transform:scaleX(0.8972)">1897.14</div>
<div class="t" style="left:2273.82px;top:336.67px;font-size:28.87px;line-height:28.87px;color:#333;font-weight:400;transform:scaleX(0.9428)">1756.96</div>
<div class="t" style="left:2276.89px;top:456.67px;font-size:28.87px;line-height:28.87px;color:#333;font-weight:400;transform:scaleX(0.9130)">1616.79</div>
<div class="t" style="left:2273.82px;top:574.49px;font-size:28.73px;line-height:28.73px;color:#333;font-weight:400;transform:scaleX(0.9501)">1476.62</div>
<div class="t" style="left:2273.83px;top:676.29px;font-size:28.73px;line-height:28.73px;color:#333;font-weight:400;transform:scaleX(0.9420)">1336.44</div>
<div class="t" style="left:982.63px;top:261.51px;font-size:36.62px;line-height:36.62px;color:#111;font-weight:400;transform:scaleX(0.8082)">1837.67</div>
<div class="t" style="left:243.12px;top:654.98px;font-size:29.44px;line-height:29.44px;color:#111;font-weight:400;transform:scaleX(0.9675)">1395.91</div>
<div class="t" style="left:116.78px;top:719.95px;font-size:33.78px;line-height:33.78px;color:#333;font-weight:400;-webkit-text-stroke:0.6px #333;transform:scaleX(1.0194)">2025/06/19</div>
<div class="t" style="left:1567.87px;top:720.51px;font-size:33.24px;line-height:33.24px;color:#333;font-weight:400;-webkit-text-stroke:0.6px #333;transform:scaleX(1.0391)">2025/09/29</div>
<div class="t" style="left:119.71px;top:771.54px;font-size:37.81px;line-height:37.81px;color:#c8283a;font-weight:400;transform:scaleX(1.0742)">总手:2778.1万</div>
<div class="t" style="left:397.58px;top:771.93px;font-size:37.04px;line-height:37.04px;color:#c8283a;font-weight:400;transform:scaleX(1.1367)">额:403.2亿</div>
<div class="t" style="left:617.74px;top:769.63px;font-size:39.66px;line-height:39.66px;color:#111;font-weight:400;transform:scaleX(1.0279)">M5:3177.5万</div>
<div class="t" style="left:870.52px;top:769.63px;font-size:39.66px;line-height:39.66px;color:#e0a020;font-weight:400;transform:scaleX(1.0970)">M10:4008.6万</div>
<div class="t" style="left:1165.99px;top:771.74px;font-size:37.13px;line-height:37.13px;color:#222;font-weight:400;transform:scaleX(1.1048)">换:</div>
<div class="t" style="left:1776.89px;top:731.62px;font-size:28.87px;line-height:28.87px;color:#c81e3c;font-weight:400;transform:scaleX(1.1337)">收盘获利</div>
<div class="t" style="left:2263.52px;top:729.97px;font-size:33.52px;line-height:33.52px;color:#c81e3c;font-weight:400;transform:scaleX(0.8832)">67.93%</div>
<div class="t" style="left:1777.35px;top:794.12px;font-size:29.47px;line-height:29.47px;color:#e8981a;font-weight:400;transform:scaleX(1.1109)">平均成本</div>
<div class="t" style="left:2255.62px;top:791.59px;font-size:33.38px;line-height:33.38px;color:#e8981a;font-weight:400;transform:scaleX(0.8902)">1640.99</div>
<div class="t" style="left:1855.00px;top:874.50px;font-size:29.89px;line-height:29.89px;color:#111;font-weight:400;transform:scaleX(1.1348)">90%筹码</div>
<div class="t" style="left:1779.00px;top:956.43px;font-size:29.16px;line-height:29.16px;color:#888;font-weight:400;transform:scaleX(1.1080)">价格区间</div>
<div class="t" style="left:2110.51px;top:954.72px;font-size:35.21px;line-height:35.21px;color:#222;font-weight:400;transform:scaleX(0.8840)">1415.12 - 1787.78</div>
<div class="t" style="left:2008.89px;top:857.06px;font-size:66.80px;line-height:66.80px;color:#ffffff;font-weight:400;-webkit-text-stroke:1.2px #7a7a7a;transform:scaleX(0.9562)">@贝利看财</div>
<svg width="2376" height="972" viewBox="0 0 2376 972">
<circle cx="238" cy="852" r="45" fill="#b8b8b8" fill-opacity="0.78"/>
<path d="M215,852 H268 M238,829 L215,852 L238,875" stroke="#fff" stroke-width="3.6" fill="none"/>
<circle cx="463" cy="852" r="45" fill="#b8b8b8" fill-opacity="0.78"/>
<path d="M436,852 H490 M467,829 L490,852 L467,875" stroke="#fff" stroke-width="3.6" fill="none"/>
<rect x="1703" y="907" width="17" height="16" fill="none" stroke="#111" stroke-width="2" stroke-dasharray="3 2"/>
</svg>
<svg style="position:absolute;left:0;top:0" width="2376" height="972"><g fill="#fff" stroke="#8a8a8a" stroke-width="1.1"><ellipse cx="1973" cy="869.5" rx="6.5" ry="7.5"/><ellipse cx="1989" cy="869.5" rx="6.5" ry="7.5"/><ellipse cx="2002.5" cy="884" rx="6" ry="7.5"/><ellipse cx="1961" cy="886" rx="5.5" ry="7"/><path d="M1958,913 C1955,900 1970,889 1982,889 C1994,889 2010,900 2007,913 C2005,921 1961,922 1958,913 Z"/></g><text x="1970" y="914" font-family="Liberation Sans" font-size="15" font-weight="700" fill="#c8c8c8">du</text></svg>
</body></html>
